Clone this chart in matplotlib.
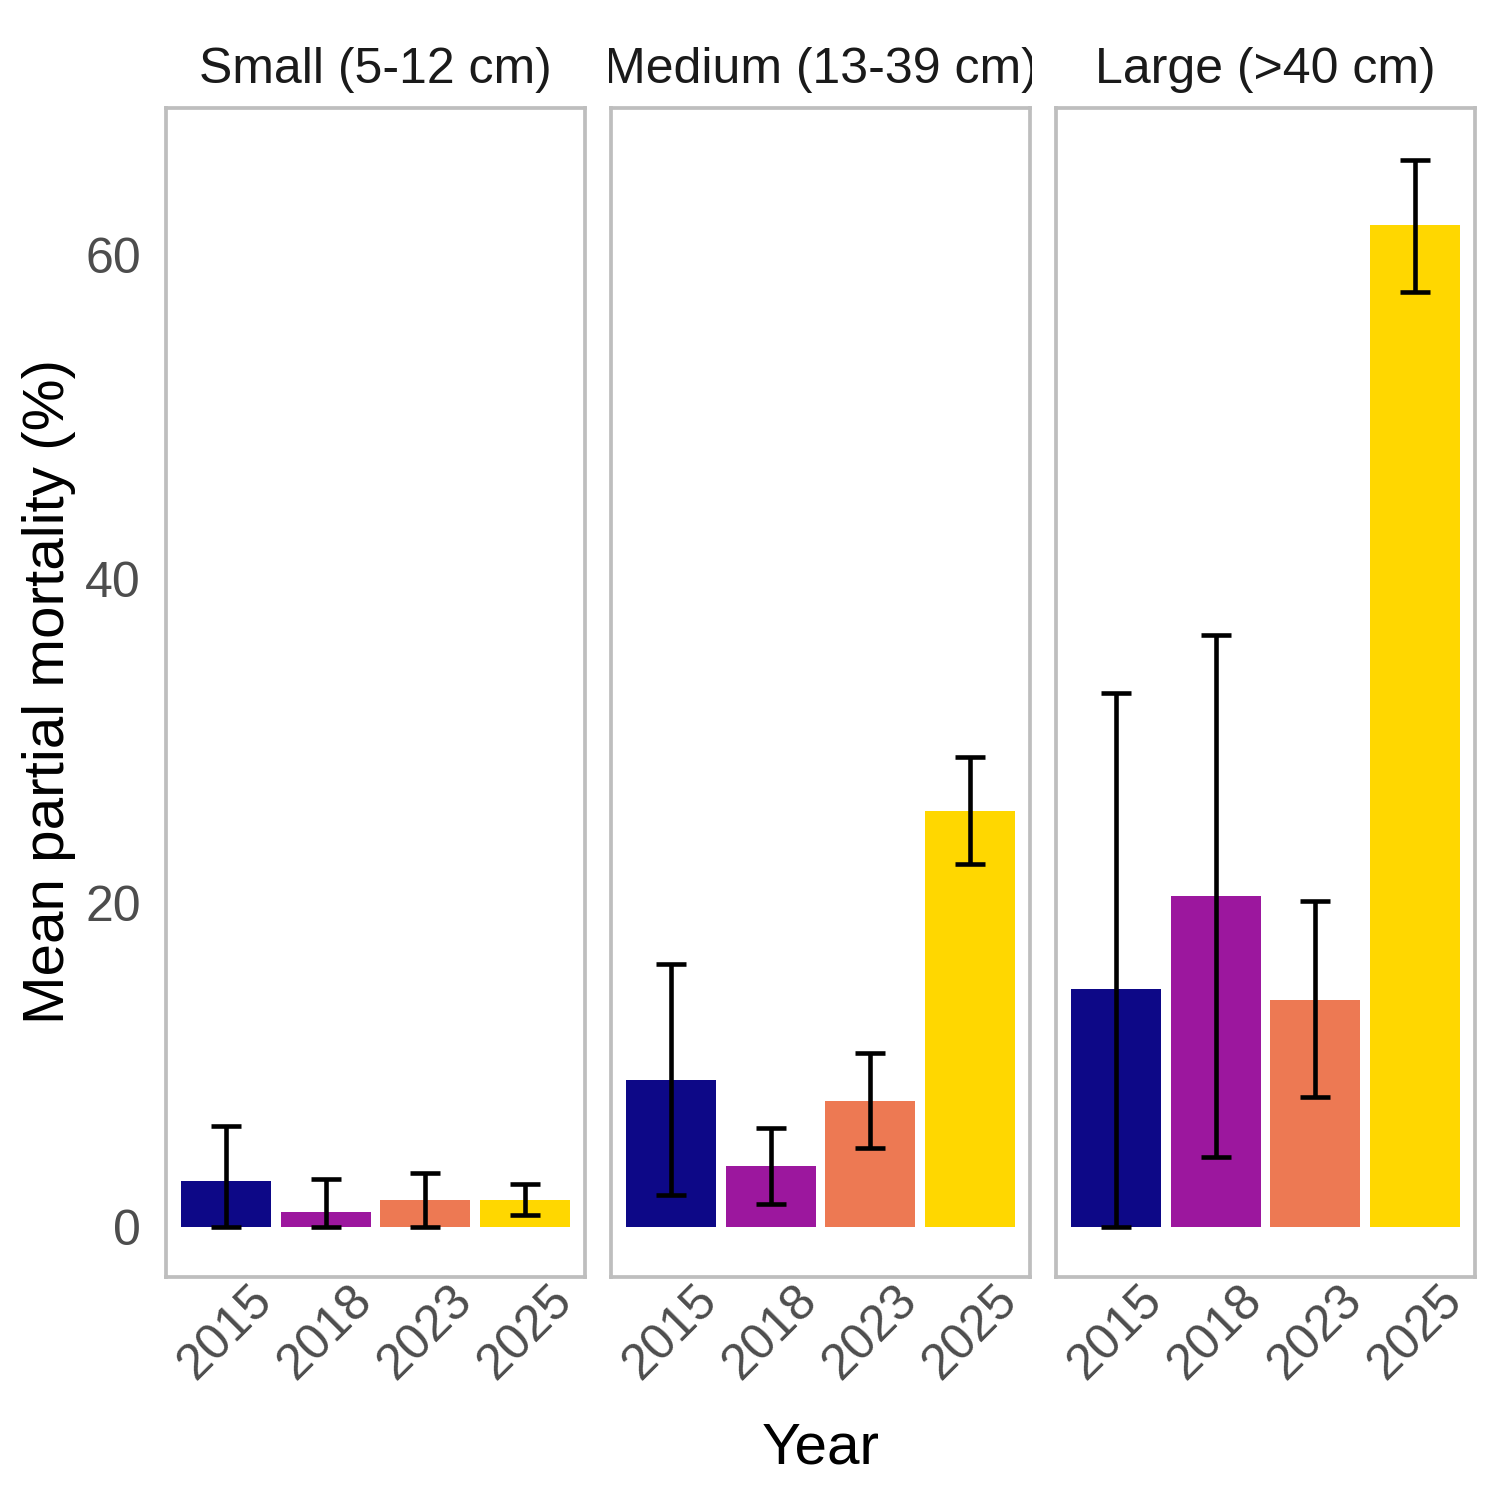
import matplotlib
matplotlib.use('Agg')
import matplotlib.pyplot as plt
from matplotlib.patches import Rectangle
import matplotlib.transforms as mtransforms

plt.rcParams['font.family'] = ['Liberation Sans', 'DejaVu Sans']

# ---- data ----
years = ['2015', '2018', '2023', '2025']
size_classes = ['Small (5-12 cm)', 'Medium (13-39 cm)', 'Large (>40 cm)']
bar_colors = ['#0D0887', '#9C179E', '#ED7953', '#FFD700']

mean_small = [2.83, 0.90, 1.66, 1.66]
low_small = [0.0, 0.0, 0.0, 0.74]
high_small = [6.22, 2.96, 3.29, 2.63]

mean_medium = [9.06, 3.74, 7.76, 25.68]
low_medium = [1.95, 1.42, 4.84, 22.42]
high_medium = [16.22, 6.07, 10.70, 29.02]

mean_large = [14.66, 20.43, 14.02, 61.80]
low_large = [0.0, 4.32, 8.00, 57.72]
high_large = [32.96, 36.55, 20.08, 65.82]

y_ticks = [0, 20, 40, 60]

means = [mean_small, mean_medium, mean_large]
lows = [low_small, low_medium, low_large]
highs = [high_small, high_medium, high_large]

# ---- figure ----
W = H = 1500
fig = plt.figure(figsize=(5, 5), dpi=300)

border = '#BEBEBE'
tick_col = '#4D4D4D'

for i, title in enumerate(size_classes):
    left = 166 + i * 445
    ax = fig.add_axes([left / W, 1 - 1277 / H, 419 / W, 1169 / H])
    x = list(range(len(years)))
    m = means[i]
    lo = [mm - l for mm, l in zip(m, lows[i])]
    hi = [h - mm for mm, h in zip(m, highs[i])]
    ax.bar(x, m, width=0.9, color=bar_colors, edgecolor='none', zorder=2)
    ax.errorbar(x, m, yerr=[lo, hi], fmt='none', ecolor='black',
                elinewidth=1.1, capsize=3.6, capthick=1.1, zorder=3)
    ax.set_xlim(-0.6, len(years) - 0.4)
    ax.set_ylim(-3.1, 69.05)
    ax.set_yticks(y_ticks)
    ax.set_xticks(x)
    ax.set_xticklabels(years, rotation=45, ha='center', va='top')
    ax.tick_params(axis='both', length=0, labelsize=12, labelcolor=tick_col)
    ax.tick_params(axis='y', pad=6)
    ax.tick_params(axis='x', pad=0)
    if i > 0:
        ax.tick_params(labelleft=False)
    for s in ax.spines.values():
        s.set_color(border)
        s.set_linewidth(0.9)
    ax.grid(False)
    ax.set_facecolor('white')
    trans = mtransforms.blended_transform_factory(ax.transAxes, fig.transFigure)
    t = ax.text(0.5, 1 - 83 / H, title, transform=trans, ha='center',
                va='baseline', fontsize=12, color='#1A1A1A', clip_on=True)
    clip = Rectangle((-0.005, -0.2), 1.01, 1.4, transform=ax.transAxes,
                     facecolor='none', edgecolor='none')
    t.set_clip_path(clip)

fig.text(820.5 / W, 1 - 1464 / H, 'Year', ha='center', va='baseline',
         fontsize=14, color='black')
fig.text(49 / W, 1 - 692 / H, 'Mean partial mortality (%)', rotation=90,
         ha='center', va='center', fontsize=14, color='black')

fig.savefig('out.png', dpi=300, facecolor='white')
